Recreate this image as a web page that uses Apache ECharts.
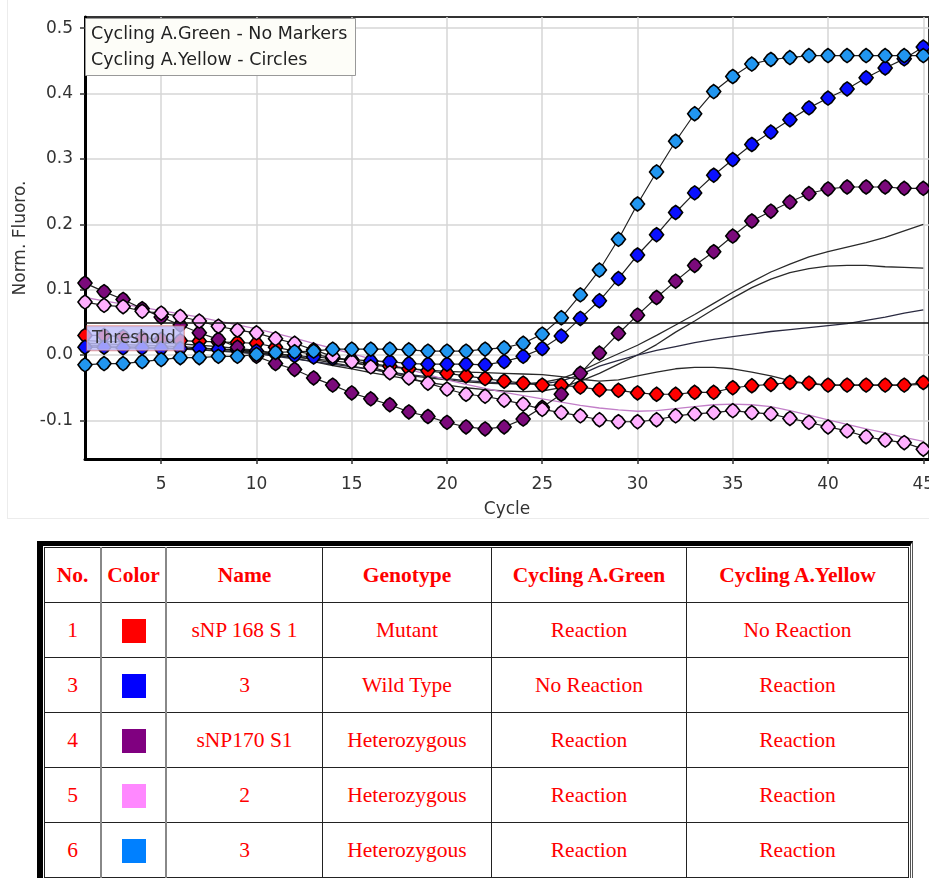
<!DOCTYPE html>
<html>
<head>
<meta charset="utf-8">
<script src="https://cdn.jsdelivr.net/npm/echarts@6/dist/echarts.min.js"></script>
<style>
  body { margin: 0; background: #fff; overflow: hidden; }
  #frame { position: absolute; left: 7px; top: 0; width: 930px; height: 518px; border-left: 1px solid #ececec; border-bottom: 1px solid #ececec; }
  #chart { position: absolute; left: 0; top: 0; width: 929px; height: 520px; }
  #tblwrap { position: absolute; left: 37px; top: 541px; border-top: 5px solid #000; border-left: 6px solid #000; border-right: 3px double #555; padding: 1px 1px 0 1px; }
  table { border-collapse: collapse; font-family: "Liberation Serif", "Times New Roman", serif; color: #ff0000; font-size: 21.5px; }
  td, th { border: 1px solid #222; text-align: center; height: 54px; padding: 0; }
  th { font-weight: bold; }
  td.c1, th.c1, td.c2, th.c2 { border-right: 2px solid #888; }
  .sw { display: inline-block; width: 24px; height: 24px; vertical-align: middle; }
</style>
</head>
<body>
<div id="frame"></div>
<div id="chart"></div>
<div id="tblwrap">
<table id="tbl"></table>
</div>
<script>
// x axis: cycle numbers
var cycles = [1,2,3,4,5,6,7,8,9,10,11,12,13,14,15,16,17,18,19,20,21,22,23,24,25,26,27,28,29,30,31,32,33,34,35,36,37,38,39,40,41,42,43,44,45];
var xTicks = [5,10,15,20,25,30,35,40,45];
var yTicks = [-0.1,0,0.1,0.2,0.3,0.4,0.5];
var threshold = 0.048;

// Cycling A.Yellow (circles)
var yellowRed = [0.030,0.030,0.028,0.026,0.024,0.022,0.021,0.020,0.019,0.018,
  0.012,0.006,0.001,-0.004,-0.009,-0.013,-0.017,-0.021,-0.024,-0.028,
  -0.032,-0.036,-0.040,-0.043,-0.046,-0.046,-0.049,-0.053,-0.054,-0.058,
  -0.060,-0.060,-0.057,-0.057,-0.050,-0.047,-0.045,-0.042,-0.043,-0.046,
  -0.046,-0.046,-0.046,-0.046,-0.042];
var yellowBlue = [0.012,0.012,0.011,0.011,0.010,0.010,0.010,0.009,0.008,0.006,
  0.002,-0.001,-0.003,-0.005,-0.007,-0.009,-0.010,-0.013,-0.014,-0.014,
  -0.014,-0.015,-0.010,-0.002,0.010,0.029,0.056,0.083,0.117,0.153,
  0.184,0.218,0.248,0.275,0.299,0.322,0.341,0.360,0.378,0.393,
  0.407,0.424,0.439,0.453,0.471];
var yellowPurple = [0.110,0.097,0.085,0.071,0.058,0.046,0.034,0.024,0.012,-0.002,
  -0.013,-0.022,-0.035,-0.046,-0.058,-0.067,-0.076,-0.087,-0.094,-0.103,
  -0.110,-0.113,-0.110,-0.098,-0.080,-0.060,-0.028,0.003,0.033,0.061,
  0.088,0.113,0.137,0.158,0.182,0.205,0.220,0.234,0.247,0.254,
  0.257,0.257,0.257,0.255,0.255];
var yellowPink = [0.081,0.076,0.074,0.067,0.064,0.059,0.052,0.044,0.038,0.034,
  0.025,0.018,0.008,-0.002,-0.010,-0.018,-0.027,-0.035,-0.043,-0.052,
  -0.060,-0.063,-0.069,-0.075,-0.083,-0.088,-0.093,-0.099,-0.102,-0.102,
  -0.099,-0.093,-0.090,-0.088,-0.085,-0.088,-0.090,-0.097,-0.103,-0.110,
  -0.116,-0.125,-0.130,-0.134,-0.144];
var yellowSky = [-0.015,-0.013,-0.013,-0.010,-0.007,-0.004,-0.004,-0.002,-0.002,0.001,
  0.004,0.005,0.006,0.009,0.009,0.009,0.009,0.008,0.006,0.006,
  0.006,0.009,0.011,0.018,0.032,0.057,0.092,0.130,0.177,0.231,
  0.280,0.327,0.369,0.403,0.426,0.445,0.452,0.455,0.458,0.458,
  0.458,0.458,0.458,0.458,0.458];

// Cycling A.Green (no markers)
var greenA = [0.022,0.021,0.020,0.019,0.018,0.017,0.015,0.013,0.010,0.007,
  0.003,-0.002,-0.007,-0.012,-0.017,-0.022,-0.027,-0.031,-0.035,-0.038,
  -0.041,-0.043,-0.044,-0.044,-0.042,-0.036,-0.025,-0.011,0.002,0.015,
  0.030,0.046,0.062,0.079,0.096,0.112,0.127,0.139,0.150,0.158,
  0.165,0.172,0.180,0.190,0.200];
var greenB = [0.018,0.017,0.016,0.015,0.014,0.013,0.011,0.009,0.007,0.004,
  0.000,-0.005,-0.010,-0.016,-0.021,-0.027,-0.032,-0.037,-0.042,-0.046,
  -0.050,-0.053,-0.055,-0.056,-0.055,-0.050,-0.040,-0.028,-0.014,0.000,
  0.016,0.035,0.052,0.070,0.087,0.103,0.116,0.126,0.132,0.136,
  0.137,0.137,0.135,0.134,0.133];
var greenC = [0.015,0.014,0.013,0.012,0.011,0.010,0.008,0.006,0.004,0.002,
  -0.002,-0.006,-0.010,-0.014,-0.018,-0.022,-0.026,-0.030,-0.033,-0.036,
  -0.039,-0.041,-0.043,-0.044,-0.044,-0.040,-0.030,-0.017,-0.008,0.000,
  0.007,0.013,0.019,0.024,0.028,0.032,0.036,0.039,0.042,0.045,
  0.048,0.053,0.058,0.064,0.069];
var greenE = [0.012,0.012,0.011,0.011,0.010,0.009,0.008,0.007,0.005,0.003,
  0.000,-0.003,-0.006,-0.009,-0.012,-0.015,-0.018,-0.021,-0.023,-0.025,
  -0.026,-0.027,-0.028,-0.029,-0.030,-0.033,-0.037,-0.040,-0.038,-0.032,
  -0.026,-0.021,-0.019,-0.019,-0.021,-0.026,-0.032,-0.039,-0.044,-0.046,
  -0.046,-0.046,-0.046,-0.046,-0.045];
var greenPink = [0.088,0.083,0.078,0.073,0.068,0.063,0.058,0.052,0.046,0.040,
  0.033,0.026,0.018,0.010,0.002,-0.006,-0.014,-0.022,-0.030,-0.038,
  -0.045,-0.051,-0.057,-0.062,-0.067,-0.072,-0.077,-0.081,-0.084,-0.086,
  -0.085,-0.082,-0.079,-0.076,-0.075,-0.076,-0.079,-0.085,-0.092,-0.099,
  -0.106,-0.113,-0.119,-0.126,-0.132];

// table rows
var rowNo = ['1','3','4','5','6'];
var rowColor = ['#ff0000','#0000ff','#800080','#ff88ff','#0080ff'];
var rowName = ['sNP 168 S 1','3','sNP170 S1','2','3'];
var rowGenotype = ['Mutant','Wild Type','Heterozygous','Heterozygous','Heterozygous'];
var rowGreen = ['Reaction','No Reaction','Reaction','Reaction','Reaction'];
var rowYellow = ['No Reaction','Reaction','Reaction','Reaction','Reaction'];
var headers = ['No.','Color','Name','Genotype','Cycling A.Green','Cycling A.Yellow'];
var colWidths = [55,63,155,168,194,221];

var FONT = 'DejaVu Sans, Verdana, sans-serif';
// rounded diamond, the "circle" marker of the instrument software
var MARK = 'path://M0,-10 L5,-6.5 L10,0 L5,6.5 L0,10 L-5,6.5 L-10,0 L-5,-6.5 Z';

function pairs(vals) {
    var out = [];
    for (var i = 0; i < cycles.length; i++) {
        out.push([cycles[i], vals[i]]);
    }
    return out;
}

function greenLine(name, vals, color) {
    return {
        name: name,
        type: 'line',
        data: pairs(vals),
        showSymbol: false,
        silent: true,
        lineStyle: { color: color, width: 1.3 },
        z: 2
    };
}

function yellowLine(name, vals, fill) {
    return {
        name: name,
        type: 'line',
        data: pairs(vals),
        symbol: MARK,
        symbolSize: 14,
        silent: true,
        lineStyle: { color: '#222', width: 1.2 },
        itemStyle: { color: fill, borderColor: '#000', borderWidth: 1.6 },
        z: 3
    };
}

var series = [
    greenLine('greenA', greenA, '#2a2a2a'),
    greenLine('greenB', greenB, '#2a2a2a'),
    greenLine('greenC', greenC, '#2a2a40'),
    greenLine('greenE', greenE, '#2a2a2a'),
    greenLine('greenPink', greenPink, '#c27ec8'),
    yellowLine('red', yellowRed, '#ff0000'),
    yellowLine('blue', yellowBlue, '#0a10ff'),
    yellowLine('purple', yellowPurple, '#7b0a7b'),
    yellowLine('pink', yellowPink, '#ffb0ff'),
    yellowLine('sky', yellowSky, '#2196f0'),
    // threshold line, on its own layer above the curves
    {
        name: 'threshold',
        type: 'line',
        data: [],
        zlevel: 1,
        z: 10,
        markLine: {
            symbol: 'none',
            silent: true,
            data: [{ yAxis: threshold }],
            lineStyle: { color: '#111', width: 1.6, type: 'solid' },
            label: {
                show: true,
                position: 'insideStartBottom',
                formatter: 'Threshold',
                distance: [2, 4],
                color: '#333',
                fontSize: 17,
                fontFamily: FONT,
                backgroundColor: 'rgba(190,190,250,0.82)',
                borderColor: 'rgba(210,90,90,0.6)',
                borderWidth: 1,
                padding: [4, 8, 3, 5]
            }
        }
    }
];

var myChart = echarts.init(document.getElementById('chart'));
var option = {
    animation: false,
    title: {
        text: 'Cycling A.Green - No Markers\nCycling A.Yellow - Circles',
        left: 85,
        top: 18,
        padding: [3, 8, 3, 6],
        backgroundColor: '#fdfdf8',
        borderColor: '#999',
        borderWidth: 1,
        textStyle: {
            fontSize: 17.5,
            fontWeight: 'normal',
            color: '#222',
            lineHeight: 26,
            fontFamily: FONT
        }
    },
    grid: {
        left: 85,
        right: 0,
        top: 17,
        bottom: 61,
        outerBoundsMode: 'none',
        containLabel: false,
        show: true,
        borderColor: '#333',
        borderWidth: 2
    },
    xAxis: {
        type: 'value',
        min: 1,
        max: 45.3,
        name: 'Cycle',
        nameLocation: 'middle',
        nameGap: 42,
        nameTextStyle: { fontSize: 17, color: '#333', fontFamily: FONT },
        axisLine: { onZero: false, lineStyle: { color: '#000', width: 3 } },
        axisTick: { show: true, length: 5, customValues: xTicks, lineStyle: { color: '#333', width: 1.5 } },
        axisLabel: { customValues: xTicks, margin: 17, fontSize: 17, color: '#333', fontFamily: FONT },
        splitLine: { show: true, lineStyle: { color: '#d6d6d6', width: 1.5 } }
    },
    yAxis: {
        type: 'value',
        min: -0.159,
        max: 0.517,
        name: 'Norm. Fluoro.',
        nameLocation: 'middle',
        nameGap: 47,
        nameTextStyle: { fontSize: 17, color: '#333', fontFamily: FONT },
        axisLine: { show: true, onZero: false, lineStyle: { color: '#000', width: 3 } },
        axisTick: { show: true, length: 5, customValues: yTicks, lineStyle: { color: '#333', width: 1.5 } },
        axisLabel: {
            customValues: yTicks,
            margin: 12,
            fontSize: 17,
            color: '#333',
            fontFamily: FONT,
            formatter: function (v) { return v.toFixed(1); }
        },
        splitLine: { show: true, lineStyle: { color: '#d6d6d6', width: 1.5 } }
    },
    series: series
};
myChart.setOption(option);

// table
var tbl = document.getElementById('tbl');
var html = '<tr>';
for (var h = 0; h < headers.length; h++) {
    html += '<th class="c' + (h + 1) + '" style="width:' + colWidths[h] + 'px">' + headers[h] + '</th>';
}
html += '</tr>';
for (var r = 0; r < rowNo.length; r++) {
    html += '<tr>' +
        '<td class="c1">' + rowNo[r] + '</td>' +
        '<td class="c2"><span class="sw" style="background:' + rowColor[r] + '"></span></td>' +
        '<td>' + rowName[r] + '</td>' +
        '<td>' + rowGenotype[r] + '</td>' +
        '<td>' + rowGreen[r] + '</td>' +
        '<td>' + rowYellow[r] + '</td>' +
        '</tr>';
}
tbl.innerHTML = html;
</script>
</body>
</html>
